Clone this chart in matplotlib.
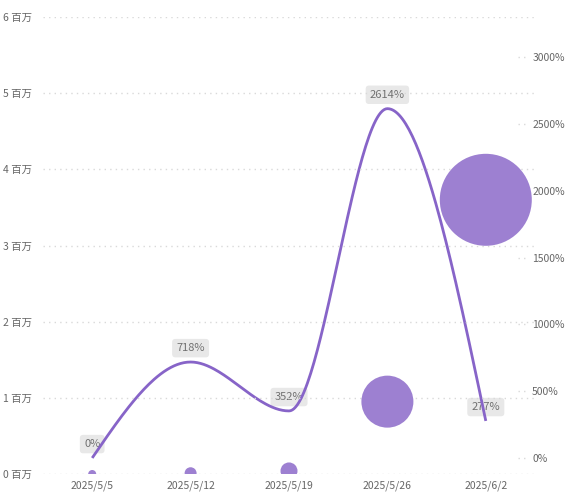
import numpy as np
import matplotlib
matplotlib.use("Agg")
import matplotlib.pyplot as plt

plt.rcParams['font.family'] = ['Noto Sans CJK SC', 'DejaVu Sans']

# --- data ---
dates = ["2025/5/5", "2025/5/12", "2025/5/19", "2025/5/26", "2025/6/2"]
growth_pct = [0, 718, 352, 2614, 277]          # line, right axis
growth_labels = ["0%", "718%", "352%", "2614%", "277%"]
bubble_value_m = [0.0, 0.01, 0.04, 0.95, 3.6]  # bubbles, left axis (百万)
bubble_size = [4, 6, 8.5, 26, 46]              # bubble radius measure

left_ticks = [0, 1, 2, 3, 4, 5, 6]
right_ticks = [0, 500, 1000, 1500, 2000, 2500, 3000]

line_color = "#8764c8"
bubble_color = "#9d80d1"
text_color = "#666666"
grid_color = "#d9d9d9"


def monotone_x(xs, ys, n=60):
    # d3 curveMonotoneX style smoothing
    xs = np.asarray(xs, float)
    ys = np.asarray(ys, float)
    h = np.diff(xs)
    s = np.diff(ys) / h
    m = np.zeros(len(xs))
    for i in range(1, len(xs) - 1):
        p = (s[i - 1] * h[i] + s[i] * h[i - 1]) / (h[i - 1] + h[i])
        m[i] = (np.sign(s[i - 1]) + np.sign(s[i])) * min(abs(s[i - 1]), abs(s[i]), 0.5 * abs(p))
    m[0] = (3 * s[0] - m[1]) / 2
    m[-1] = (3 * s[-1] - m[-2]) / 2
    out_x, out_y = [], []
    for i in range(len(xs) - 1):
        t = np.linspace(0, 1, n)
        h00 = 2 * t**3 - 3 * t**2 + 1
        h10 = t**3 - 2 * t**2 + t
        h01 = -2 * t**3 + 3 * t**2
        h11 = t**3 - t**2
        out_x.append(xs[i] + t * h[i])
        out_y.append(h00 * ys[i] + h10 * h[i] * m[i] + h01 * ys[i + 1] + h11 * h[i] * m[i + 1])
    return np.concatenate(out_x), np.concatenate(out_y)


fig = plt.figure(figsize=(5.78, 4.99), dpi=100)
ax = fig.add_axes([43 / 578, 25 / 499, 492 / 578, 457 / 499])
ax2 = ax.twinx()

x = np.arange(len(dates))

# left axis: bubbles
ax.set_xlim(-0.5, len(dates) - 0.5)
ax.set_ylim(0, 6)
ax.set_yticks(left_ticks)
ax.set_yticklabels([f"{v} 百万" for v in left_ticks])
ax.set_xticks(x)
ax.set_xticklabels(dates)
for v in left_ticks:
    ax.axhline(v, color=grid_color, lw=1, ls=(0, (1, 3)), zorder=0)
sizes = [(2 * r * 0.72) ** 2 for r in bubble_size]
ax.scatter(x, bubble_value_m, s=sizes, color=bubble_color, edgecolors="none", zorder=3)

# right axis: growth line
ax2.set_ylim(-120, 3300)
ax2.set_yticks(right_ticks)
ax2.set_yticklabels([f"{v}%" for v in right_ticks])
for v in right_ticks:
    ax2.axhline(v, xmin=0.965, xmax=0.985, color=grid_color, lw=1, ls=(0, (1, 3)), zorder=0)
cx, cy = monotone_x(x, growth_pct)
ax2.plot(cx, cy, color=line_color, lw=2, zorder=5, solid_capstyle="butt")
for xi, yi, lab in zip(x, growth_pct, growth_labels):
    ax2.annotate(lab, (xi, yi), xytext=(0, 10), textcoords="offset points",
                 ha="center", va="center", fontsize=8, color="#707070", zorder=4,
                 bbox=dict(boxstyle="round,pad=0.38,rounding_size=0.3", fc="#e8e8e8", ec="none"))

for a in (ax, ax2):
    for sp in a.spines.values():
        sp.set_visible(False)
    a.tick_params(length=0, labelsize=7.5, labelcolor=text_color)
ax.tick_params(axis="y", pad=8)
ax.tick_params(axis="x", pad=5)
ax2.tick_params(axis="y", pad=-2)
ax.set_zorder(2)
ax2.set_zorder(1)
ax.patch.set_visible(False)

fig.savefig("out.png", dpi=100)
